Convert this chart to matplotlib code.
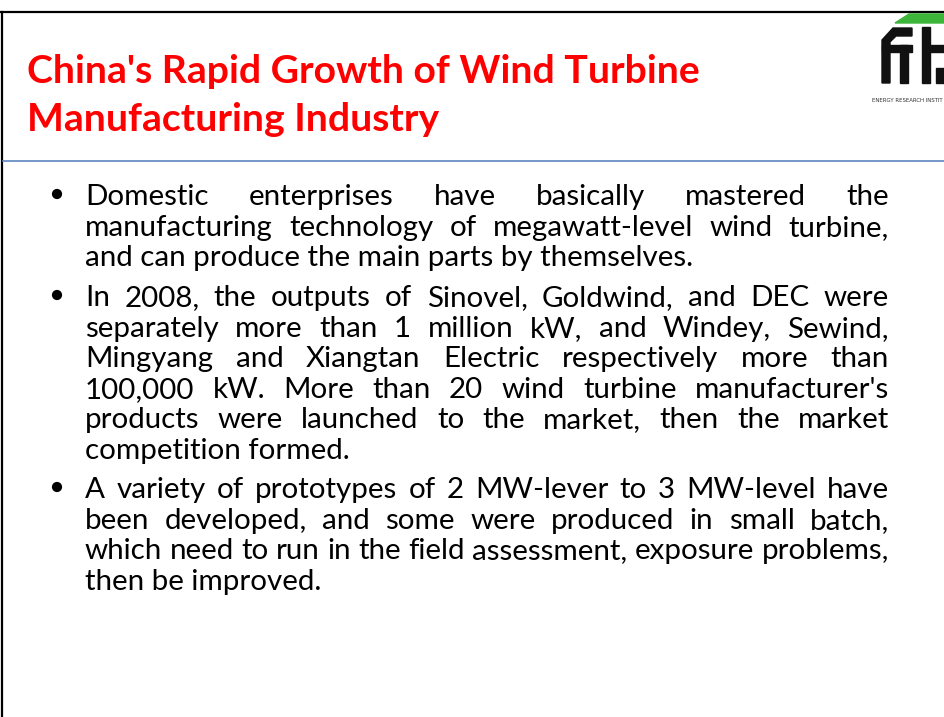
import matplotlib
matplotlib.use("Agg")
import matplotlib.pyplot as plt
from matplotlib.patches import Polygon, Rectangle, Circle

# slide text, line breaks as in the slide
title_lines = ["China's Rapid Growth of Wind Turbine",
               "Manufacturing Industry"]

bullets = [
    ["Domestic enterprises have basically mastered the",
     "manufacturing technology of megawatt-level wind turbine,",
     "and can produce the main parts by themselves."],
    ["In 2008, the outputs of Sinovel, Goldwind, and DEC were",
     "separately more than 1 million kW, and Windey, Sewind,",
     "Mingyang and Xiangtan Electric respectively more than",
     "100,000 kW. More than 20 wind turbine manufacturer's",
     "products were launched to the market, then the market",
     "competition formed."],
    ["A variety of prototypes of 2 MW-lever to 3 MW-level have",
     "been developed, and some were produced in small batch,",
     "which need to run in the field assessment, exposure problems,",
     "then be improved."],
]
# the logo is cut at the slide edge, only this much of its caption shows
logo_caption = "ENERGY RESEARCH INSTIT"

W, H = 945, 717
fig = plt.figure(figsize=(W / 100, H / 100), dpi=100)
ax = fig.add_axes([0, 0, 1, 1])
ax.set_xlim(0, W)
ax.set_ylim(H, 0)
ax.axis("off")
renderer = fig.canvas.get_renderer()

FONT = "Lato"


def text_width(s, size, weight="normal", family=FONT):
    t = ax.text(0, 0, s, fontsize=size, family=family, weight=weight)
    w = t.get_window_extent(renderer).width
    t.remove()
    return w


def fit_size(s, target, weight="normal", family=FONT):
    return 20 * target / text_width(s, 20, weight, family)


# frame lines
ax.plot([0, W], [12, 12], color="black", lw=1.6)
ax.plot([2, 2], [12, H], color="black", lw=1.6)
ax.plot([3, W], [161, 161], color="#5b87c0", lw=1.2)

# title
tsize = fit_size(title_lines[0], 673, "bold")
for i, line in enumerate(title_lines):
    ax.text(27, 83 + 48 * i, line, fontsize=tsize, family=FONT,
            weight="bold", color="#ff0000", va="baseline", ha="left")

# body, justified except the last line of each bullet
left, right = 85, 889
bsize = fit_size(bullets[0][-1], 608)
step = 30.6
starts = [205, 306, 498]
for b, lines in enumerate(bullets):
    y0 = starts[b]
    ax.add_patch(Circle((57, y0 - 11), 4.4, color="black"))
    for j, line in enumerate(lines):
        y = y0 + step * j
        if j == len(lines) - 1:
            ax.text(left, y, line, fontsize=bsize, family=FONT,
                    va="baseline", ha="left", color="black")
            continue
        words = line.split()
        widths = [text_width(w, bsize) for w in words]
        gap = (right - left - sum(widths)) / (len(words) - 1)
        x = left
        for w, ww in zip(words, widths):
            ax.text(x, y, w, fontsize=bsize, family=FONT,
                    va="baseline", ha="left", color="black")
            x += ww + gap

# logo (top right, partly cut off)
ax.add_patch(Polygon([(895, 23), (909, 14), (945, 14), (945, 23)],
                     closed=True, color="#3db53a"))
blk = "#111111"
ax.add_patch(Polygon([(882, 83), (882, 40), (893, 28), (912, 28), (912, 36),
                      (896, 36), (890, 42), (890, 83)], closed=True, color=blk))
ax.add_patch(Rectangle((882, 45), 30, 7, color=blk))
ax.add_patch(Rectangle((900, 45), 8, 38, color=blk))
ax.add_patch(Rectangle((922, 27), 8, 56, color=blk))
ax.add_patch(Rectangle((930, 45), 15, 7, color=blk))
ax.add_patch(Rectangle((936, 68), 9, 15, color=blk))
csize = fit_size(logo_caption, 71, family="DejaVu Sans")
ax.text(872, 101, logo_caption, fontsize=csize, family="DejaVu Sans",
        color="#333333", va="center", ha="left")

fig.savefig("out.png", dpi=100)
